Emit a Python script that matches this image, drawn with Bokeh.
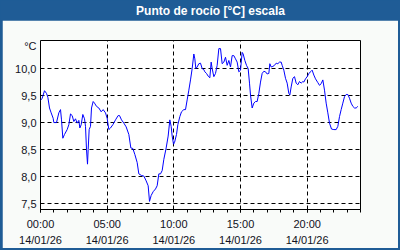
from bokeh.plotting import figure
from bokeh.models import (Range1d, FixedTicker, Label, Spacer, ColumnDataSource)
from bokeh.layouts import column, row
from bokeh.embed import file_html
from bokeh.resources import INLINE

title_text = "Punto de rocío [°C] escala"
unit_text = "°C"

hours = [0.0, 0.125, 0.30, 0.45, 0.55, 0.675, 0.80, 0.95, 1.0, 1.2,
         1.375, 1.5, 1.575, 1.675, 1.8, 2.0, 2.125, 2.25, 2.375, 2.5,
         2.625, 2.75, 2.875, 2.95, 3.05, 3.175, 3.3, 3.375, 3.45, 3.525,
         3.575, 3.65, 3.75, 3.825, 3.95, 4.05, 4.2, 4.375, 4.55, 4.7,
         4.875, 5.0,
         5.125, 5.25, 5.425, 5.625, 5.825, 5.925, 6.075, 6.25, 6.425, 6.625,
         6.775, 6.925, 7.075, 7.25, 7.375, 7.575, 7.75, 7.925, 8.075, 8.175,
         8.3, 8.45, 8.625, 8.75, 8.875, 9.0, 9.125, 9.25, 9.425, 9.575,
         9.7, 9.8, 9.875, 9.975, 10.05,
         10.2, 10.3, 10.45, 10.575, 10.75, 10.875, 11.0, 11.125, 11.25, 11.375,
         11.5, 11.575, 11.65, 11.75, 11.875, 12.0, 12.125, 12.25, 12.325, 12.45,
         12.575, 12.7, 12.8, 12.875, 13.0, 13.125, 13.25, 13.375, 13.5, 13.625,
         13.75, 13.875, 14.0, 14.125, 14.25, 14.375, 14.5, 14.625, 14.75, 14.875,
         15.0,
         15.125, 15.2, 15.325, 15.45, 15.575, 15.675, 15.75, 15.875, 16.0, 16.125,
         16.25, 16.375, 16.5, 16.625, 16.75, 16.875, 17.0, 17.125, 17.2, 17.3,
         17.425, 17.55, 17.675, 17.8, 17.925, 18.05, 18.125, 18.25, 18.375, 18.5,
         18.625, 18.7, 18.8, 18.925, 19.05, 19.175, 19.3, 19.425, 19.55, 19.675,
         19.75, 19.875, 20.0, 20.125, 20.3, 20.375, 20.5, 20.625, 20.8, 20.925,
         21.05, 21.175, 21.3, 21.425, 21.55, 21.675, 21.825, 22.0, 22.175, 22.3,
         22.425, 22.55, 22.675, 22.8, 22.925, 23.05, 23.175, 23.3, 23.425, 23.55,
         23.675, 23.8]

dew_point = [9.41, 9.45, 9.59, 9.54, 9.47, 9.27, 9.18, 9.08, 9.00, 9.00,
             9.18, 9.24, 9.05, 8.71, 8.78, 8.87, 8.96, 9.16, 9.13, 9.02,
             9.07, 8.99, 9.04, 8.90, 8.96, 9.15, 9.07, 8.93, 8.50, 8.23,
             8.50, 8.87, 8.93, 9.27, 9.39, 9.36, 9.30, 9.27, 9.20, 9.24,
             9.18, 9.08,
             8.87, 8.90, 8.96, 9.05, 9.13, 9.13, 9.05, 8.99, 8.92, 8.78,
             8.53, 8.52, 8.41, 8.26, 8.05, 8.02, 8.01, 7.92, 7.83, 7.54,
             7.65, 7.72, 7.77, 7.83, 8.05, 8.05, 8.11, 8.32, 8.53, 8.75,
             9.05, 8.93, 8.75, 8.60, 8.63,
             8.78, 8.96, 9.11, 9.20, 9.24, 9.24, 9.42, 9.60, 9.79, 10.0,
             10.27, 10.18, 10.0, 10.03, 10.09, 10.10, 10.0, 9.98, 9.94, 9.91,
             9.86, 9.83, 10.12, 10.0, 9.85, 9.91, 10.06, 10.37, 10.37, 10.09,
             10.12, 10.21, 10.06, 10.15, 10.03, 10.24, 10.24, 10.18, 10.12, 9.94,
             9.97,
             10.30, 10.27, 10.15, 10.06, 10.0, 9.73, 9.51, 9.27, 9.36, 9.39,
             9.39, 9.54, 9.75, 9.91, 9.95, 9.94, 9.90, 9.91, 10.09, 10.03,
             10.04, 10.06, 10.10, 10.09, 10.12, 10.12, 10.06, 9.97, 9.82, 9.73,
             9.54, 9.51, 9.66, 9.82, 9.85, 9.73, 9.70, 9.76, 9.73, 9.76,
             9.75, 9.81, 9.85, 9.91, 9.95, 9.97, 9.88, 9.81, 9.74, 9.69,
             9.72, 9.79, 9.60, 9.36, 9.18, 8.99, 8.88, 8.87, 8.87, 8.93,
             9.11, 9.24, 9.36, 9.48, 9.52, 9.52, 9.45, 9.36, 9.30, 9.27,
             9.27, 9.30]

x_ticks = [0, 5, 10, 15, 20]
x_tick_labels = ["00:00\n14/01/26", "05:00\n14/01/26", "10:00\n14/01/26",
                 "15:00\n14/01/26", "20:00\n14/01/26"]
x_minor_ticks = list(range(0, 25))
y_ticks = [7.5, 8.0, 8.5, 9.0, 9.5, 10.0]
y_tick_labels = ["7,5", "8,0", "8,5", "9,0", "9,5", "10,0"]
unit_tick = 10.41

BLUE = "#1f5c96"
LIGHT = "#f9fbf9"
TEXT = "#111122"
FONT = "Liberation Sans"

# Title bar
t = figure(width=400, height=20, x_range=Range1d(0, 400), y_range=Range1d(0, 20),
           toolbar_location=None, output_backend="svg", min_border=0,
           x_axis_type=None, y_axis_type=None)
t.grid.visible = False
t.background_fill_color = BLUE
t.border_fill_color = BLUE
t.outline_line_color = None
t.add_layout(Label(x=210, y=10, text=title_text, text_align="center",
                   text_baseline="middle", text_color="white", text_font=FONT,
                   text_font_size="12px", text_font_style="bold"))

# Main chart
p = figure(width=396, height=228, x_range=Range1d(0, 24), y_range=Range1d(7.39, 10.52),
           toolbar_location=None, output_backend="svg",
           min_border_left=38, min_border_right=38, min_border_top=20, min_border_bottom=37)
p.background_fill_color = "white"
p.border_fill_color = LIGHT
p.outline_line_color = "black"
p.outline_line_width = 1

src = ColumnDataSource(dict(h=hours, v=dew_point))
p.line("h", "v", source=src, line_color="#0000ff", line_width=1)

xa = p.xaxis[0]
xa.ticker = FixedTicker(ticks=x_ticks, minor_ticks=x_minor_ticks)
xa.major_label_overrides = {k: lab for k, lab in zip(x_ticks, x_tick_labels)}
xa.major_tick_in = 0
xa.major_tick_out = 3
xa.minor_tick_in = 0
xa.minor_tick_out = 3
xa.major_tick_line_color = "black"
xa.minor_tick_line_color = "black"
xa.axis_line_color = "black"
xa.major_label_standoff = 5
xa.major_label_text_font = FONT
xa.major_label_text_font_size = "11px"
xa.major_label_text_color = TEXT
xa.major_label_text_line_height = 1.35

ya = p.yaxis[0]
ya.ticker = FixedTicker(ticks=y_ticks + [unit_tick])
overrides = {k: lab for k, lab in zip(y_ticks, y_tick_labels)}
overrides[unit_tick] = unit_text
ya.major_label_overrides = overrides
ya.major_tick_in = 0
ya.major_tick_out = 0
ya.minor_tick_line_color = None
ya.axis_line_color = None
ya.major_label_standoff = 4
ya.major_label_text_font = FONT
ya.major_label_text_font_size = "11px"
ya.major_label_text_color = TEXT

p.xgrid[0].ticker = FixedTicker(ticks=x_ticks)
p.ygrid[0].ticker = FixedTicker(ticks=y_ticks)
for g in (p.xgrid[0], p.ygrid[0]):
    g.grid_line_color = "black"
    g.grid_line_dash = "4 3"
    g.grid_line_width = 1

sty = {"background-color": BLUE}
layout = column(
    t,
    row(Spacer(width=2, height=228, styles=sty), p, Spacer(width=2, height=228, styles=sty)),
    Spacer(width=400, height=2, styles=sty),
    styles=sty,
)

open("out.html", "w").write(file_html(layout, INLINE))
